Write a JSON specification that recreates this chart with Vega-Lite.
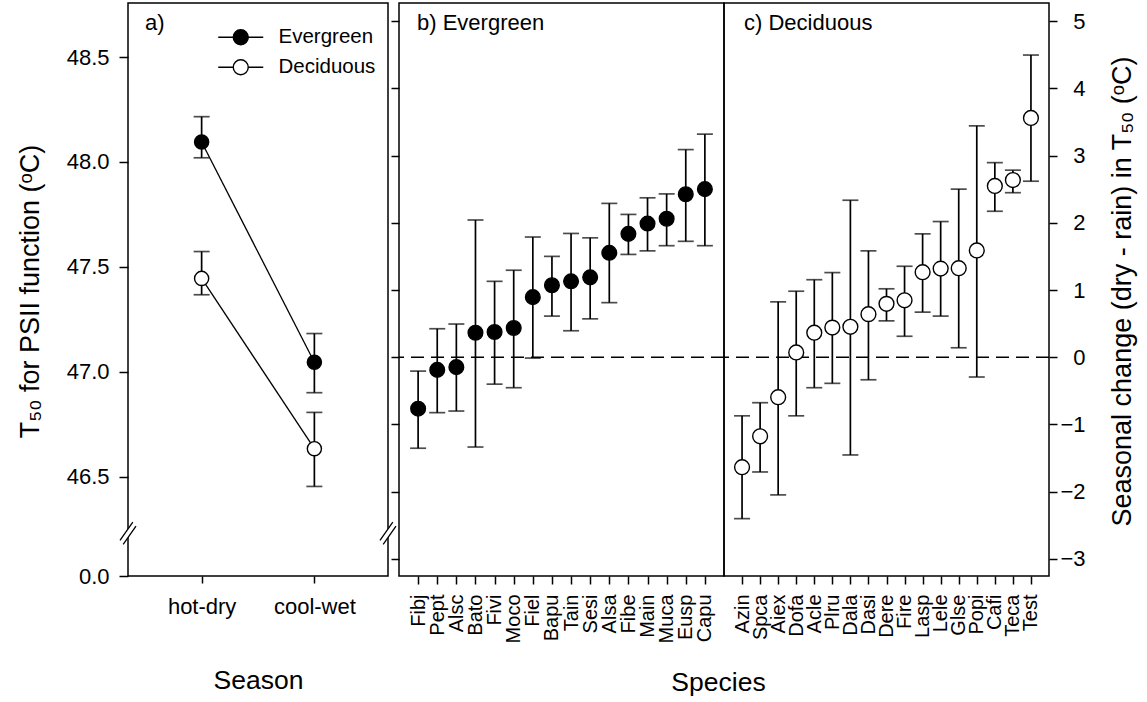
{
  "$schema": "https://vega.github.io/schema/vega-lite/v6.json",
  "background": "white",
  "padding": {"left": 15, "top": 2, "right": 5, "bottom": 5},
  "config": {
    "font": "Liberation Sans",
    "view": {"stroke": "black", "strokeWidth": 1.5},
    "axis": {"grid": false, "domain": false, "tickColor": "black", "tickWidth": 1.5, "labelColor": "black", "titleColor": "black", "titleFontWeight": "normal", "labelFontSize": 22, "titleFontSize": 27},
    "title": {"fontWeight": "normal", "fontSize": 22, "color": "black", "anchor": "start", "frame": "group", "baseline": "alphabetic"}
  },
  "datasets": {
    "a": [
      {"season": "hot-dry", "type": "Evergreen", "mean": 48.095, "lo": 48.02, "hi": 48.216},
      {"season": "cool-wet", "type": "Evergreen", "mean": 47.045, "lo": 46.9, "hi": 47.182},
      {"season": "hot-dry", "type": "Deciduous", "mean": 47.445, "lo": 47.367, "hi": 47.573},
      {"season": "cool-wet", "type": "Deciduous", "mean": 46.633, "lo": 46.453, "hi": 46.806}
    ],
    "b": [
      {"sp": "Fibj", "mean": -0.765, "lo": -1.353, "hi": -0.206},
      {"sp": "Pept", "mean": -0.188, "lo": -0.824, "hi": 0.424},
      {"sp": "Alsc", "mean": -0.147, "lo": -0.8, "hi": 0.494},
      {"sp": "Bato", "mean": 0.365, "lo": -1.335, "hi": 2.041},
      {"sp": "Fivi", "mean": 0.376, "lo": -0.4, "hi": 1.129},
      {"sp": "Moco", "mean": 0.435, "lo": -0.453, "hi": 1.294},
      {"sp": "Fiel", "mean": 0.894, "lo": -0.012, "hi": 1.788},
      {"sp": "Bapu", "mean": 1.071, "lo": 0.612, "hi": 1.5},
      {"sp": "Tain", "mean": 1.129, "lo": 0.394, "hi": 1.841},
      {"sp": "Sesi", "mean": 1.188, "lo": 0.571, "hi": 1.776},
      {"sp": "Alsa", "mean": 1.553, "lo": 0.812, "hi": 2.288},
      {"sp": "Fibe", "mean": 1.835, "lo": 1.529, "hi": 2.124},
      {"sp": "Main", "mean": 1.988, "lo": 1.582, "hi": 2.371},
      {"sp": "Muca", "mean": 2.059, "lo": 1.659, "hi": 2.429},
      {"sp": "Eusp", "mean": 2.424, "lo": 1.724, "hi": 3.088},
      {"sp": "Capu", "mean": 2.5, "lo": 1.659, "hi": 3.318}
    ],
    "c": [
      {"sp": "Azin", "mean": -1.635, "lo": -2.4, "hi": -0.871},
      {"sp": "Spca", "mean": -1.176, "lo": -1.706, "hi": -0.676},
      {"sp": "Aiex", "mean": -0.594, "lo": -2.047, "hi": 0.824},
      {"sp": "Dofa", "mean": 0.071, "lo": -0.871, "hi": 0.982},
      {"sp": "Acle", "mean": 0.365, "lo": -0.453, "hi": 1.153},
      {"sp": "Plru", "mean": 0.441, "lo": -0.388, "hi": 1.259},
      {"sp": "Dala", "mean": 0.453, "lo": -1.453, "hi": 2.335},
      {"sp": "Dasi", "mean": 0.641, "lo": -0.335, "hi": 1.582},
      {"sp": "Dere", "mean": 0.794, "lo": 0.541, "hi": 1.018},
      {"sp": "Fire", "mean": 0.847, "lo": 0.312, "hi": 1.353},
      {"sp": "Lasp", "mean": 1.265, "lo": 0.671, "hi": 1.835},
      {"sp": "Lele", "mean": 1.318, "lo": 0.612, "hi": 2.018},
      {"sp": "Glse", "mean": 1.324, "lo": 0.141, "hi": 2.5},
      {"sp": "Popi", "mean": 1.588, "lo": -0.294, "hi": 3.441},
      {"sp": "Cafi", "mean": 2.547, "lo": 2.171, "hi": 2.894},
      {"sp": "Teca", "mean": 2.635, "lo": 2.447, "hi": 2.782},
      {"sp": "Test", "mean": 3.559, "lo": 2.618, "hi": 4.494}
    ],
    "breaks": [{"bx": 0, "by": 46.23}, {"bx": 1, "by": 46.23}],
    "zero": [{"z": 0}]
  },
  "spacing": 11,
  "bounds": "flush",
  "resolve": {"scale": {"x": "independent", "y": "independent"}},
  "hconcat": [
    {
      "width": 260,
      "height": 573,
      "title": {"text": "a)", "dx": 17, "offset": -32},
      "resolve": {"scale": {"x": "independent"}},
      "layer": [
        {
          "data": {"name": "a"},
          "encoding": {
            "x": {"field": "season", "type": "nominal", "sort": ["hot-dry", "cool-wet"],
              "scale": {"type": "point", "padding": 0.653},
              "axis": {"title": "Season", "labelAngle": 0, "tickSize": 7, "labelPadding": 13, "labelBaseline": "top", "titleFontSize": 26.5, "titleX": 130, "titleY": 112, "titleBaseline": "alphabetic", "titleAlign": "center"}}
          },
          "layer": [
            {"mark": {"type": "rule", "strokeWidth": 1.7, "color": "black"},
             "encoding": {
               "y": {"field": "lo", "type": "quantitative",
                 "scale": {"domain": [46.026, 48.758], "nice": false, "zero": false},
                 "axis": {"title": "T₅₀ for PSII function (ᵒC)", "values": [46.026, 46.5, 47, 47.5, 48, 48.5],
                   "labelExpr": "datum.value < 46.1 ? '0.0' : format(datum.value, '.1f')",
                   "tickSize": 9, "labelPadding": 10, "titleX": -98, "titleY": 288, "titleAngle": 270, "titleAlign": "center", "titleBaseline": "middle"}},
               "y2": {"field": "hi"}}},
            {"mark": {"type": "tick", "size": 16, "thickness": 1.7, "color": "black"},
             "encoding": {"y": {"field": "lo", "type": "quantitative"}}},
            {"mark": {"type": "tick", "size": 16, "thickness": 1.7, "color": "black"},
             "encoding": {"y": {"field": "hi", "type": "quantitative"}}},
            {"mark": {"type": "line", "color": "black", "strokeWidth": 1.3},
             "encoding": {"y": {"field": "mean", "type": "quantitative"}, "detail": {"field": "type"}}},
            {"mark": {"type": "circle", "size": 200, "opacity": 1, "stroke": "black", "strokeWidth": 1.4},
             "encoding": {
               "y": {"field": "mean", "type": "quantitative"},
               "fill": {"field": "type", "type": "nominal",
                 "scale": {"domain": ["Evergreen", "Deciduous"], "range": ["black", "white"]},
                 "legend": {"orient": "none", "legendX": 102.5, "legendY": 24, "title": null,
                   "symbolType": "M -3,0 L -1,0 M 1,0 L 3,0 M 1,0 A 1,1 0 1,1 -1,0 A 1,1 0 1,1 1,0 Z",
                   "symbolSize": 225, "symbolStrokeColor": "black", "symbolStrokeWidth": 1.4, "symbolOpacity": 1,
                   "labelFontSize": 20.5, "labelColor": "black", "labelOffset": 27.5, "rowPadding": 8, "padding": 0}}}}
          ]
        },
        {
          "data": {"name": "breaks"},
          "encoding": {
            "x": {"field": "bx", "type": "quantitative", "scale": {"domain": [0, 1], "nice": false, "zero": false}, "axis": null},
            "y": {"field": "by", "type": "quantitative"}
          },
          "layer": [
            {"mark": {"type": "point", "shape": "M -1,0.9 L 0.6,-1.4 L 1,-0.9 L -0.6,1.4 Z", "filled": true, "fill": "white", "strokeWidth": 0, "size": 256, "opacity": 1}},
            {"mark": {"type": "point", "shape": "M -1,0.9 L 0.6,-1.4 M -0.6,1.4 L 1,-0.9", "filled": false, "stroke": "black", "strokeWidth": 1.3, "size": 256, "opacity": 1}}
          ]
        }
      ]
    },
    {
      "spacing": 0,
      "bounds": "flush",
      "hconcat": [
        {
          "width": 325,
          "height": 573,
          "title": {"text": "b) Evergreen", "dx": 18, "offset": -32},
          "layer": [
            {"data": {"name": "zero"},
             "mark": {"type": "rule", "strokeDash": [13, 7], "strokeWidth": 1.3, "color": "black"},
             "encoding": {"y": {"field": "z", "type": "quantitative",
               "scale": {"domain": [-3.253, 5.268], "nice": false, "zero": false},
               "axis": {"values": [-3, -2, -1, 0, 1, 2, 3, 4, 5], "labels": false, "tickSize": 8, "title": null}}}},
            {"data": {"name": "b"},
             "encoding": {"x": {"field": "sp", "type": "nominal", "sort": null,
               "scale": {"type": "point", "padding": 1.5},
               "axis": {"labelAngle": 270, "labelFontSize": 20, "tickSize": 8, "labelPadding": 10, "title": "Species", "titleFontSize": 26.5, "titleX": 319, "titleY": 114, "titleBaseline": "alphabetic", "titleAlign": "center"}}},
             "layer": [
               {"mark": {"type": "rule", "strokeWidth": 1.7, "color": "black"},
                "encoding": {"y": {"field": "lo", "type": "quantitative"}, "y2": {"field": "hi"}}},
               {"mark": {"type": "tick", "size": 16, "thickness": 1.7, "color": "black"},
                "encoding": {"y": {"field": "lo", "type": "quantitative"}}},
               {"mark": {"type": "tick", "size": 16, "thickness": 1.7, "color": "black"},
                "encoding": {"y": {"field": "hi", "type": "quantitative"}}},
               {"mark": {"type": "circle", "size": 215, "opacity": 1, "fill": "black", "stroke": "black", "strokeWidth": 1.4},
                "encoding": {"y": {"field": "mean", "type": "quantitative"}}}
             ]}
          ]
        },
        {
          "width": 325,
          "height": 573,
          "title": {"text": "c) Deciduous", "dx": 20, "offset": -32},
          "layer": [
            {"data": {"name": "zero"},
             "mark": {"type": "rule", "strokeDash": [13, 7], "strokeWidth": 1.3, "color": "black"},
             "encoding": {"y": {"field": "z", "type": "quantitative",
               "scale": {"domain": [-3.253, 5.268], "nice": false, "zero": false},
               "axis": {"orient": "right", "values": [-3, -2, -1, 0, 1, 2, 3, 4, 5], "format": "d", "tickSize": 8, "labelAlign": "right", "labelPadding": 28,
                 "title": "Seasonal change (dry - rain) in T₅₀ (ᵒC)", "titleX": 73, "titleY": 288, "titleAngle": 270, "titleAlign": "center", "titleBaseline": "middle"}}}},
            {"data": {"name": "c"},
             "encoding": {"x": {"field": "sp", "type": "nominal", "sort": null,
               "scale": {"type": "point", "padding": 1.47},
               "axis": {"labelAngle": 270, "labelFontSize": 20, "tickSize": 8, "labelPadding": 10, "title": null}}},
             "layer": [
               {"mark": {"type": "rule", "strokeWidth": 1.7, "color": "black"},
                "encoding": {"y": {"field": "lo", "type": "quantitative"}, "y2": {"field": "hi"}}},
               {"mark": {"type": "tick", "size": 16, "thickness": 1.7, "color": "black"},
                "encoding": {"y": {"field": "lo", "type": "quantitative"}}},
               {"mark": {"type": "tick", "size": 16, "thickness": 1.7, "color": "black"},
                "encoding": {"y": {"field": "hi", "type": "quantitative"}}},
               {"mark": {"type": "circle", "size": 220, "opacity": 1, "fill": "white", "stroke": "black", "strokeWidth": 1.4},
                "encoding": {"y": {"field": "mean", "type": "quantitative"}}}
             ]}
          ]
        }
      ]
    }
  ]
}
